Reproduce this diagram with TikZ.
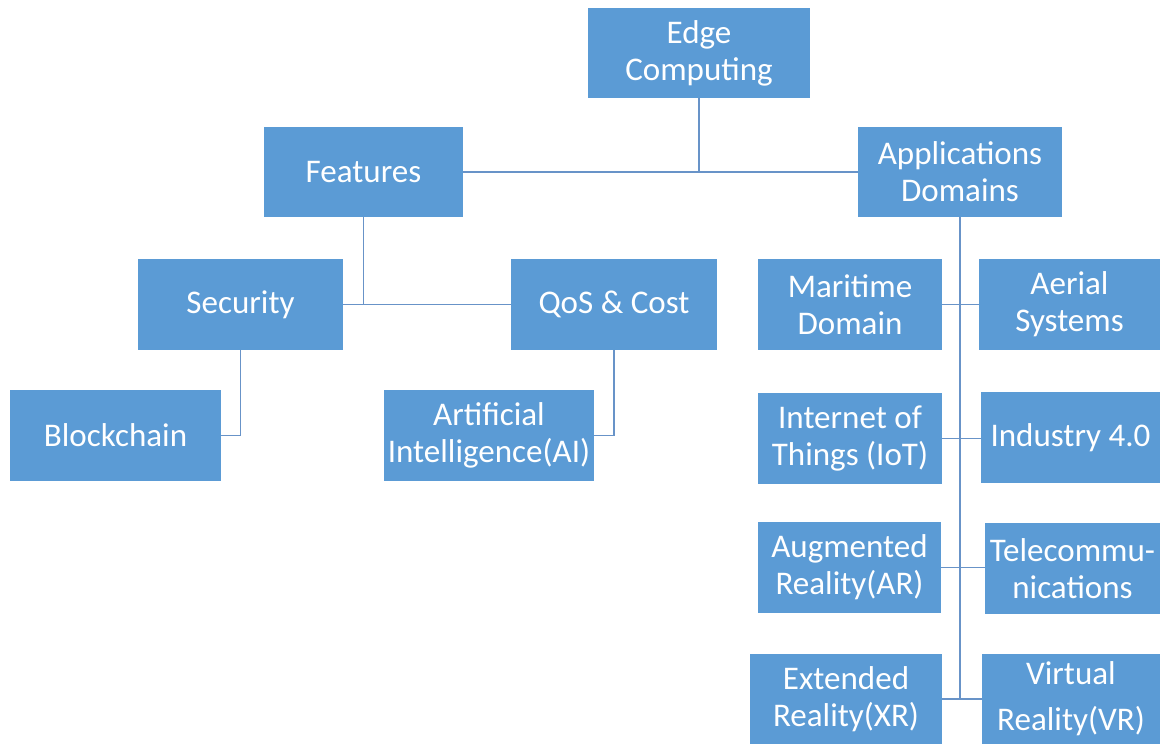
\documentclass[tikz,border=0pt]{standalone}
\usepackage{fontspec}
\setmainfont{Carlito}
\usetikzlibrary{positioning}
\definecolor{boxblue}{RGB}{91,155,213}
\definecolor{linkblue}{RGB}{104,147,200}
\tikzset{
  box/.style={
    fill=boxblue,
    text=white,
    align=center,
    minimum height=2.25cm,
    inner sep=2pt,
    font=\fontsize{23.5}{26.5}\selectfont
  },
  link/.style={draw=linkblue, line width=1.4pt}
}

\begin{document}
\begin{tikzpicture}[x=0.025cm, y=-0.025cm]
  \useasboundingbox (0,0) rectangle (1160,744);
  % top levels
  \node[box, minimum width=5.55cm]  (edge) at (699,53)    {Edge\\Computing};
  \node[box, minimum width=4.975cm] (feat) at (363.5,172) {Features};
  \node[box, minimum width=5.1cm]   (apps) at (960,172)   {Applications\\Domains};
  % features side
  \node[box, minimum width=5.125cm] (sec) at (240.5,304.5) {Security};
  \node[box, minimum width=5.15cm]  (qos) at (614,304.5)   {QoS \& Cost};
  \node[box, minimum width=5.275cm] (blk) at (115.5,435.5) {Blockchain};
  \node[box, minimum width=5.25cm]  (ai)  at (489,435.5)   {Artificial\\Intelligence(AI)};
  % application domains
  \node[box, minimum width=4.6cm]   (mar) at (850,304.5)    {Maritime\\Domain};
  \node[box, minimum width=4.525cm] (aer) at (1069.5,304.5) {Aerial\\Systems};
  \node[box, minimum width=4.6cm]   (iot) at (850,438.5)    {Internet of\\Things (IoT)};
  \node[box, minimum width=4.475cm] (ind) at (1070.5,437.5) {Industry 4.0};
  \node[box, minimum width=4.575cm] (ar)  at (849.5,567.5)  {Augmented\\Reality(AR)};
  \node[box, minimum width=4.375cm] (tel) at (1072.5,568.5) {Telecommu-\\nications};
  \node[box, minimum width=4.8cm]   (xr)  at (846,699)      {Extended\\Reality(XR)};
  \node[box, minimum width=4.45cm]  (vr)  at (1071,699)     {Virtual\\[6pt]Reality(VR)};
  % connectors
  \draw[link] (edge.south) -- (edge.south |- feat.east);
  \draw[link] (feat.east) -- (apps.west);
  \draw[link] (feat.south) -- (feat.south |- sec.east);
  \draw[link] (sec.east) -- (qos.west);
  \draw[link] (sec.south) |- (blk.east);
  \draw[link] (qos.south) |- (ai.east);
  \draw[link] (apps.south) -- (apps.south |- xr.east);
  \draw[link] (mar.east) -- (mar.east -| aer.west);
  \draw[link] (iot.east) -- (iot.east -| ind.west);
  \draw[link] (ar.east) -- (ar.east -| tel.west);
  \draw[link] (xr.east) -- (xr.east -| vr.west);
\end{tikzpicture}
\end{document}
